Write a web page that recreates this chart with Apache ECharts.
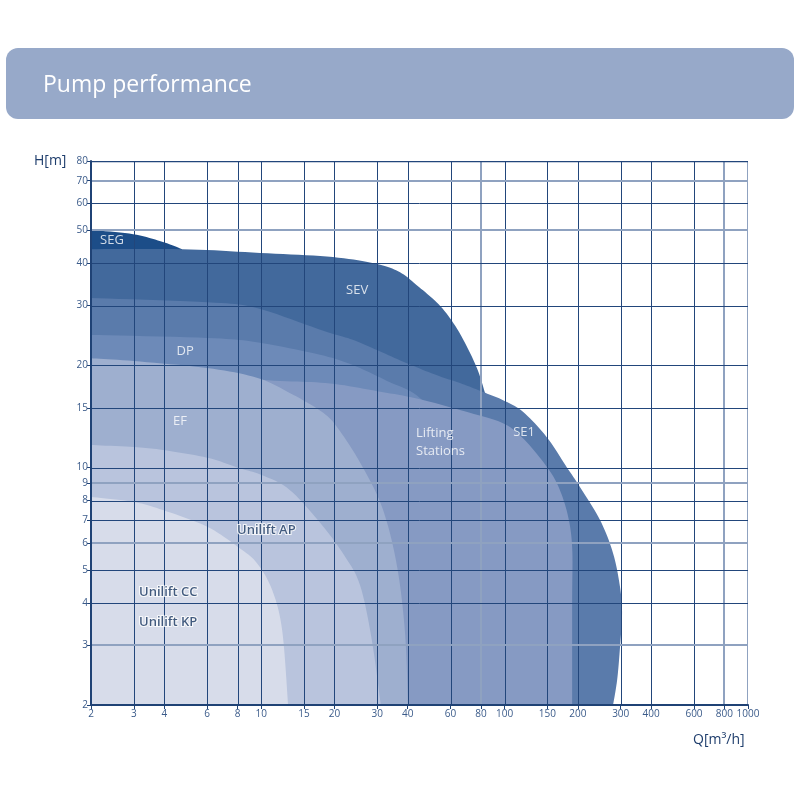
<!DOCTYPE html>
<html><head><meta charset="utf-8">
<script src="https://cdn.jsdelivr.net/npm/echarts@6/dist/echarts.min.js"></script>
<style>html,body{margin:0;padding:0;background:#fff}#c{width:800px;height:800px}</style>
</head><body><div id="c"></div>
<script>
// ---- axis ticks ----
const qTicks = [2,3,4,6,8,10,15,20,30,40,60,80,100,150,200,300,400,600,800,1000];
const hTicks = [2,3,4,5,6,7,8,9,10,15,20,30,40,50,60,70,80];

// ---- region outlines [Q, H] (upper/right boundary) ----
const segCurve  = [[2,50.1],[2.98,48.7],[3.95,46.2],[4.73,44.0]];
const segTail   = [[4.73,40],[2,40]];
const sevCurve  = [[2,44.0],[4.73,44.0],[9.9,42.9],[19.7,41.7],[29.9,39.8],[37.2,37.6],[43.7,34.4],[52.8,30.6],[60,27.4],[67.5,23.9],[77.1,19.6],[83.1,16.6]];
const sevTail   = [[86,14],[86,2],[2,2]];
const se1Curve  = [[2,31.6],[6,30.7],[9.6,29.5],[18,25.3],[23.8,23.8],[29.9,22.2],[39.7,20.3],[52.8,18.7],[65.6,17.75],[81.6,16.7],[98.6,15.8],[119,14.6],[149,12.3],[180.6,10.0],[204,8.77],[246.7,7.01],[279,5.6],[298,4.45],[303.8,3.73],[298,2.96],[290,2.37],[279,2]];
const se1Tail   = [[2,2]];
const dpCurve   = [[2,24.6],[6,24.1],[9.6,23.4],[17.45,21.5],[23.8,20.05],[32.9,18.0],[45,16.0],[60,12],[68,6],[70,2]];
const dpTail    = [[2,2]];
const liftCurve = [[2,18.6],[6,18.4],[12,18.0],[19.2,17.7],[30,16.8],[45,15.9],[72,14.5],[99,13.5],[119,12.2],[144,10.4],[164,9.0],[181,7.35],[189.5,5.84],[189.5,4],[189.5,2]];
const liftTail  = [[2,2]];
const efCurve   = [[2,21.0],[3,20.6],[6,19.65],[9.6,18.4],[13.1,16.6],[18,14.5],[21.1,12.8],[26.2,10.0],[31.7,7.5],[36.2,5.1],[39,3.26],[40.1,2]];
const efTail    = [[2,2]];
const apCurve   = [[2,11.66],[3,11.5],[3.95,11.27],[6,10.7],[8.03,10.0],[10.1,9.5],[13.1,8.6],[17.7,6.8],[22,5.5],[25.5,4.5],[28.5,3.1],[31,2]];
const apTail    = [[2,2]];
const ccCurve   = [[2,8.2],[2.98,7.93],[3.95,7.5],[6,6.7],[8.03,5.84],[9.6,5.24],[11.1,4.36],[12.2,3.32],[12.9,2]];
const ccTail    = [[2,2]];

// ---- region labels ----
const labelTexts = ['SEG','SEV','DP','EF','Lifting\nStations','SE1','Unilift AP','Unilift CC','Unilift KP'];
const labelQ     = [2.44, 24.8, 4.87, 4.64, 43.3, 120.2, 7.96, 3.15, 3.15];
const labelH     = [46.8, 33.3, 22.0, 13.7, 11.9, 12.7, 6.55, 4.30, 3.51];

// ---- styling ----
const regions = [
  {curve: segCurve,  tail: segTail,  color: '#1c4d88'},
  {curve: sevCurve,  tail: sevTail,  color: '#42699c'},
  {curve: se1Curve,  tail: se1Tail,  color: '#5a7bab'},
  {curve: dpCurve,   tail: dpTail,   color: '#6d8ab8'},
  {curve: liftCurve, tail: liftTail, color: '#869ac3'},
  {curve: efCurve,   tail: efTail,   color: '#9eafcf'},
  {curve: apCurve,   tail: apTail,   color: '#b9c4dd'},
  {curve: ccCurve,   tail: ccTail,   color: '#d7dcea'}
];
const lightQ = [80, 800, 1000];
const lightH = [3, 6, 9, 50, 70];
const labelStyle = [
  {c:'#fff', a:'center'}, {c:'#fff', a:'center'}, {c:'#fff', a:'center'}, {c:'#fff', a:'center'},
  {c:'#fff', a:'left'}, {c:'#fff', a:'center'},
  {c:'#12315e', a:'left', halo:true}, {c:'#12315e', a:'left', halo:true}, {c:'#12315e', a:'left', halo:true}
];
const FONT = '"Open Sans", "Noto Sans", sans-serif';
const DARK = '#22467b';

function smoothPts(pts) {
  const out = [pts[0]];
  const n = pts.length;
  for (let i = 0; i < n - 1; i++) {
    const p0 = pts[i - 1] || pts[i], p1 = pts[i], p2 = pts[i + 1], p3 = pts[i + 2] || pts[i + 1];
    const c1 = [p1[0] + (p2[0] - p0[0]) / 6, p1[1] + (p2[1] - p0[1]) / 6];
    const c2 = [p2[0] - (p3[0] - p1[0]) / 6, p2[1] - (p3[1] - p1[1]) / 6];
    const steps = 10;
    for (let s = 1; s <= steps; s++) {
      const t = s / steps, u = 1 - t;
      out.push([
        u*u*u*p1[0] + 3*u*u*t*c1[0] + 3*u*t*t*c2[0] + t*t*t*p2[0],
        u*u*u*p1[1] + 3*u*u*t*c1[1] + 3*u*t*t*c2[1] + t*t*t*p2[1]
      ]);
    }
  }
  return out;
}

function renderAll(params, api) {
  const children = [];
  const px = p => api.coord(p);
  regions.forEach(r => {
    const pts = smoothPts(r.curve.map(px));
    r.tail.forEach(p => pts.push(px(p)));
    children.push({type: 'polygon', shape: {points: pts}, style: {fill: r.color}});
  });
  const bl = px([2, 2]), tr = px([1000, 80]);
  qTicks.forEach(q => {
    const light = lightQ.includes(q);
    let x = px([q, 2])[0];
    x = light ? Math.round(x) : Math.round(x) + 0.5;
    if (q === 2) return;
    children.push({type: 'line', shape: {x1: x, y1: tr[1], x2: x, y2: bl[1]},
      style: {stroke: light ? '#8fa2c0' : DARK, lineWidth: light ? 2 : 1}});
  });
  hTicks.forEach(h => {
    const light = lightH.includes(h);
    let y = px([2, h])[1];
    y = light ? Math.round(y) : Math.round(y) + 0.5;
    if (h === 2) return;
    children.push({type: 'line', shape: {x1: bl[0], y1: y, x2: tr[0], y2: y},
      style: {stroke: light ? '#8fa2c0' : DARK, lineWidth: light ? 2 : (h === 80 ? 1.6 : 1)}});
  });
  return {type: 'group', children: children};
}

function makeLabels(haloLayer) {
  const out = [];
  labelTexts.forEach((t, i) => {
    const st = labelStyle[i];
    if (haloLayer && !st.halo) return;
    const lab = {show: true, position: 'inside', formatter: t, fontSize: 13, fontFamily: FONT,
      align: st.a, verticalAlign: 'middle', lineHeight: 18, textBorderWidth: 0};
    if (haloLayer) {
      lab.color = '#ffffff'; lab.textBorderColor = '#ffffff'; lab.textBorderWidth = 2.2; lab.fontWeight = 600;
    } else {
      lab.color = st.c;
      if (st.halo) lab.fontWeight = 600;
    }
    out.push({value: [labelQ[i], labelH[i]], label: lab});
  });
  return out;
}

const chart = echarts.init(document.getElementById('c'), null, {renderer: 'canvas'});
const axisCommon = {
  type: 'log', logBase: 10, z: 5,
  axisLine: {show: true, onZero: false, lineStyle: {color: '#1f4275', width: 2}},
  splitLine: {show: false}, minorTick: {show: false}, minorSplitLine: {show: false}
};
chart.setOption({
  animation: false,
  grid: {left: 91, right: 52, top: 161, bottom: 95, containLabel: false},
  xAxis: Object.assign({}, axisCommon, {
    min: 2, max: 1000,
    axisTick: {show: true, customValues: qTicks, length: 4, lineStyle: {color: '#1f4275'}},
    axisLabel: {customValues: qTicks, fontSize: 10, color: '#3b5b8a', margin: 4, fontFamily: FONT,
      showMinLabel: true, showMaxLabel: true, formatter: v => String(Math.round(v))}
  }),
  yAxis: Object.assign({}, axisCommon, {
    min: 2, max: 80,
    axisTick: {show: true, customValues: hTicks, length: 4, lineStyle: {color: '#1f4275'}},
    axisLabel: {customValues: hTicks, fontSize: 10, color: '#3b5b8a', margin: 3, fontFamily: FONT,
      showMinLabel: true, showMaxLabel: true, formatter: v => String(Math.round(v))}
  }),
  graphic: [
    {type: 'rect', left: 6, top: 48, shape: {width: 788, height: 71, r: 12}, style: {fill: '#97a9c9'}},
    {type: 'text', left: 43, top: 74, style: {text: 'Pump performance', fill: '#ffffff', fontSize: 23, fontWeight: 500, fontFamily: FONT}},
    {type: 'text', left: 34, top: 154, style: {text: 'H[m]', fill: '#1e3d6c', fontSize: 14, fontFamily: FONT}},
    {type: 'text', left: 693, top: 733, style: {text: 'Q[m³/h]', fill: '#1e3d6c', fontSize: 14, fontFamily: FONT}}
  ],
  series: [{
    type: 'custom', coordinateSystem: 'cartesian2d', silent: true, clip: true,
    data: [[2, 2]], renderItem: renderAll, z: 2
  }, {
    type: 'scatter', symbolSize: 0, silent: true, z: 4,
    data: makeLabels(true)
  }, {
    type: 'scatter', symbolSize: 0, silent: true, z: 6,
    data: makeLabels(false)
  }]
});
</script>
</body></html>
